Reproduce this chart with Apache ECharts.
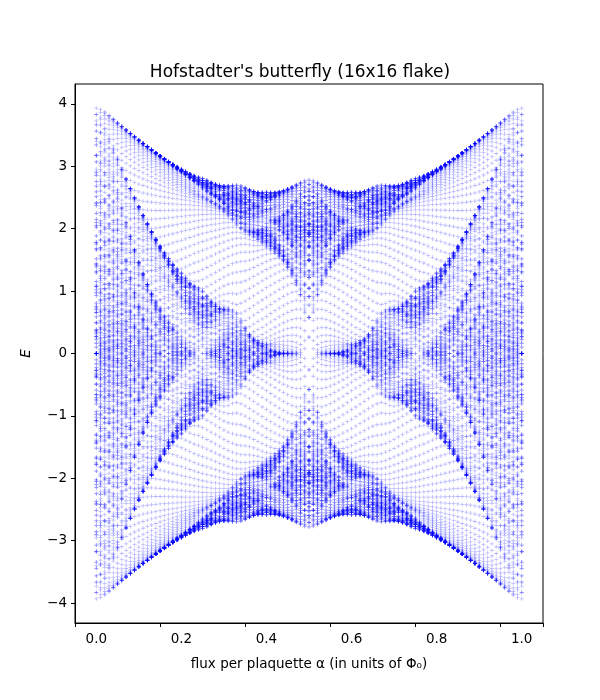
<!DOCTYPE html>
<html><head><meta charset="utf-8">
<script src="https://cdn.jsdelivr.net/npm/echarts@6/dist/echarts.min.js"></script>
<style>html,body{margin:0;background:#fff}#c{width:600px;height:700px}</style>
</head><body><div id="c"></div>
<script>
// Chart inputs
const latticeSize = 16;            // 16x16 flake, open boundaries
const hopping = 1;                 // nearest-neighbour hopping t
const fluxSteps = 100;             // flux values 0, 0.01, ..., 1.00
const xTicks = [0, 0.2, 0.4, 0.6, 0.8, 1.0];
const yTicks = [-4, -3, -2, -1, 0, 1, 2, 3, 4];

// Spectrum of the Harper-Hofstadter Hamiltonian on the flake (Landau gauge)
function spectrum(alpha) {
  const L = latticeSize, n = L * L;
  const re = new Float64Array(n * n), im = new Float64Array(n * n);
  const idx = (x, y) => y * L + x;
  for (let y = 0; y < L; y++) for (let x = 0; x < L; x++) {
    const i = idx(x, y);
    if (x + 1 < L) { const j = idx(x + 1, y), ph = 2 * Math.PI * alpha * y;
      re[i*n+j] = -hopping*Math.cos(ph); im[i*n+j] = -hopping*Math.sin(ph);
      re[j*n+i] = -hopping*Math.cos(ph); im[j*n+i] = hopping*Math.sin(ph); }
    if (y + 1 < L) { const j = idx(x, y + 1);
      re[i*n+j] = -hopping; re[j*n+i] = -hopping; }
  }
  const d = new Float64Array(n), e = new Float64Array(n);
  const vr = new Float64Array(n), vi = new Float64Array(n), pr = new Float64Array(n), pi = new Float64Array(n);
  for (let k = 0; k < n - 2; k++) {
    d[k] = re[k*n+k];
    let nrm = 0;
    for (let i = k + 1; i < n; i++) nrm += re[i*n+k]**2 + im[i*n+k]**2;
    nrm = Math.sqrt(nrm);
    if (nrm < 1e-14) { e[k] = 0; continue; }
    const x0r = re[(k+1)*n+k], x0i = im[(k+1)*n+k], x0a = Math.hypot(x0r, x0i);
    const ur = x0a > 0 ? x0r / x0a : 1, ui = x0a > 0 ? x0i / x0a : 0;
    const ar = -ur * nrm, ai = -ui * nrm;
    let vn = 0;
    for (let i = k + 1; i < n; i++) { vr[i] = re[i*n+k]; vi[i] = im[i*n+k]; }
    vr[k+1] -= ar; vi[k+1] -= ai;
    for (let i = k + 1; i < n; i++) vn += vr[i]*vr[i] + vi[i]*vi[i];
    vn = Math.sqrt(vn);
    if (vn < 1e-14) { e[k] = nrm; continue; }
    for (let i = k + 1; i < n; i++) { vr[i] /= vn; vi[i] /= vn; }
    e[k] = nrm;
    let c = 0;
    for (let i = k + 1; i < n; i++) {
      let sr = 0, si = 0; const row = i * n;
      for (let j = k + 1; j < n; j++) {
        const a = re[row+j], b = im[row+j];
        sr += a*vr[j] - b*vi[j]; si += a*vi[j] + b*vr[j];
      }
      pr[i] = sr; pi[i] = si;
      c += vr[i]*sr + vi[i]*si;
    }
    for (let i = k + 1; i < n; i++) { pr[i] -= c*vr[i]; pi[i] -= c*vi[i]; }
    for (let i = k + 1; i < n; i++) {
      const row = i * n, a1 = vr[i], b1 = vi[i], a2 = pr[i], b2 = pi[i];
      for (let j = k + 1; j < n; j++) {
        re[row+j] -= 2*(a1*pr[j] + b1*pi[j] + a2*vr[j] + b2*vi[j]);
        im[row+j] -= 2*(b1*pr[j] - a1*pi[j] + b2*vr[j] - a2*vi[j]);
      }
    }
  }
  d[n-2] = re[(n-2)*n+n-2]; d[n-1] = re[(n-1)*n+n-1];
  e[n-2] = Math.hypot(re[(n-1)*n+n-2], im[(n-1)*n+n-2]); e[n-1] = 0;
  for (let l = 0; l < n; l++) {
    let iter = 0, m;
    do {
      for (m = l; m < n - 1; m++) {
        const dd = Math.abs(d[m]) + Math.abs(d[m+1]);
        if (Math.abs(e[m]) <= 1e-15 * dd) break;
      }
      if (m !== l) {
        if (iter++ > 60) break;
        let g = (d[l+1] - d[l]) / (2 * e[l]);
        let r = Math.hypot(g, 1);
        g = d[m] - d[l] + e[l] / (g + (g >= 0 ? Math.abs(r) : -Math.abs(r)));
        let s = 1, cc = 1, p = 0, i;
        for (i = m - 1; i >= l; i--) {
          let f = s * e[i], b = cc * e[i];
          e[i+1] = (r = Math.hypot(f, g));
          if (r === 0) { d[i+1] -= p; e[m] = 0; break; }
          s = f / r; cc = g / r; g = d[i+1] - p;
          r = (d[i] - g) * s + 2 * cc * b;
          d[i+1] = g + (p = s * r); g = cc * r - b;
        }
        if (r === 0 && i >= l) continue;
        d[l] -= p; e[l] = g; e[m] = 0;
      }
    } while (m !== l);
  }
  return Array.from(d);
}

const points = [];
const cache = {};
for (let s = 0; s <= fluxSteps; s++) {
  const k = Math.min(s, fluxSteps - s);
  if (!cache[k]) cache[k] = spectrum(k / fluxSteps);
  const a = s / fluxSteps;
  for (const E of cache[k]) points.push([a, E]);
}

const chart = echarts.init(document.getElementById('c'), null, {renderer: 'canvas'});
const font = 'DejaVu Sans';
chart.setOption({
  animation: false,
  title: {text: "Hofstadter's butterfly (16x16 flake)", left: 'center', top: 59,
    textStyle: {fontFamily: font, fontSize: 17, fontWeight: 'normal', color: '#000'}},
  grid: {left: 75, right: 57, top: 84, bottom: 77, show: false},
  xAxis: {type: 'value', min: -0.05, max: 1.05, interval: 0.2,
    name: 'flux per plaquette α (in units of Φ₀)', nameLocation: 'middle', nameGap: 34,
    nameTextStyle: {fontFamily: font, fontSize: 13.5, color: '#000'},
    axisLine: {show: true, onZero: false, lineStyle: {color: '#000'}},
    axisTick: {show: true, length: 4, lineStyle: {color: '#000'}},
    axisLabel: {fontFamily: font, fontSize: 13.5, color: '#000', margin: 9,
      customValues: xTicks, formatter: v => v.toFixed(1)},
    splitLine: {show: false}},
  yAxis: {type: 'value', min: -4.32, max: 4.32,
    name: 'E', nameLocation: 'middle', nameGap: 42,
    nameTextStyle: {fontFamily: font, fontSize: 13.5, fontStyle: 'italic', color: '#000'},
    axisLine: {show: true, onZero: false, lineStyle: {color: '#000'}},
    axisTick: {show: true, length: 4, customValues: yTicks, lineStyle: {color: '#000'}},
    axisLabel: {fontFamily: font, fontSize: 13.5, color: '#000', customValues: yTicks, margin: 8,
      formatter: v => (v < 0 ? '−' + Math.abs(v) : String(v))},
    splitLine: {show: false}},
  series: [{type: 'scatter', data: points, symbol: 'path://M2,0H3V2H5V3H3V5H2V3H0V2H2Z',
    symbolSize: 4, itemStyle: {color: 'rgba(0,0,255,0.35)'}, large: false, progressive: 0}]
});
chart.setOption({graphic: [{type: 'rect', shape: {x: 75, y: 84, width: 468, height: 539},
  style: {fill: 'none', stroke: '#000', lineWidth: 1}, silent: true}]});
</script></body></html>
